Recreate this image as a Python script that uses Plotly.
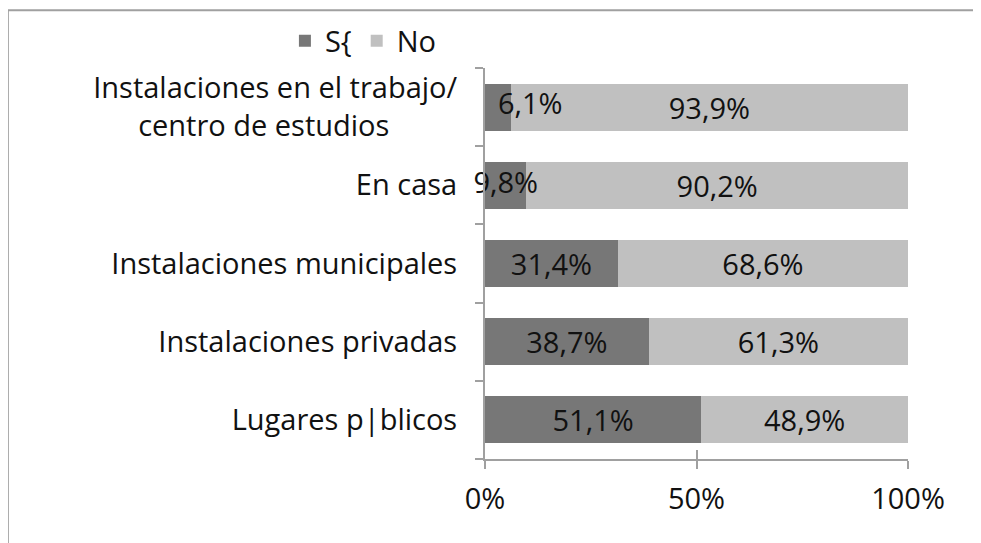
import plotly.graph_objects as go

categories = ["Lugares p|blicos", "Instalaciones privadas", "Instalaciones municipales",
              "En casa", "Instalaciones en el trabajo/<br>centro de estudios" + "\u00a0" * 9]
si_values = [51.1, 38.7, 31.4, 9.8, 6.1]
no_values = [48.9, 61.3, 68.6, 90.2, 93.9]
series_names = ["S{", "No"]
x_ticks = [0, 50, 100]
x_tick_labels = ["0%", "50%", "100%"]

FONT = "Open Sans"
FS = 29
SMALL = 15  # segments below this get their label drawn as overflow text

def lab(v):
    return f"{v:.1f}%".replace(".", ",")

fig = go.Figure()
fig.add_trace(go.Bar(y=categories, x=si_values, orientation="h", name=series_names[0],
                     marker=dict(color="#777777", line=dict(width=0)),
                     text=[lab(v) if v >= SMALL else "" for v in si_values],
                     textposition="inside", insidetextanchor="middle", textangle=0,
                     textfont=dict(family=FONT, size=FS, color="#111111")))
fig.add_trace(go.Bar(y=categories, x=no_values, orientation="h", name=series_names[1],
                     marker=dict(color="#c0c0c0", line=dict(width=0)),
                     text=[lab(v) for v in no_values],
                     textposition="inside", insidetextanchor="middle", textangle=0,
                     textfont=dict(family=FONT, size=FS, color="#111111")))

# labels of the thin "S{" segments, overflowing like in the original
small_idx = [i for i, v in enumerate(si_values) if v < SMALL]
fig.add_trace(go.Scatter(
    x=[si_values[i] / 2 for i in small_idx], y=[categories[i] for i in small_idx],
    mode="text", text=[lab(si_values[i]) for i in small_idx],
    textposition=["middle center" if si_values[i] > 8 else "middle right" for i in small_idx],
    textfont=dict(family=FONT, size=FS, color="#111111"),
    showlegend=False, hoverinfo="skip", cliponaxis=False))

fig.update_layout(
    barmode="stack", bargap=0.4,
    width=981, height=543,
    margin=dict(l=477, r=81, t=60, b=92, autoexpand=False),
    paper_bgcolor="white", plot_bgcolor="white",
    font=dict(family=FONT, size=FS, color="#111111"),
    uniformtext=dict(mode="show", minsize=FS),
    showlegend=True,
    legend=dict(orientation="h", x=-0.473, xanchor="left", y=1.069, yanchor="middle",
                font=dict(family=FONT, size=FS), itemwidth=30, tracegroupgap=0,
                bgcolor="rgba(0,0,0,0)", traceorder="normal"),
    xaxis=dict(range=[0, 100], tickvals=x_ticks, ticktext=x_tick_labels, showgrid=False,
               showline=True, linecolor="#a0a0a0", linewidth=2,
               ticks="outside", ticklen=8, tickcolor="#a0a0a0", tickwidth=2,
               ticklabelstandoff=5,
               zeroline=False, tickfont=dict(size=FS), automargin=False),
    xaxis2=dict(range=[0, 100], tickvals=x_ticks, overlaying="x", side="bottom",
                showticklabels=False, showgrid=False, showline=False,
                ticks="inside", ticklen=9, tickcolor="#a0a0a0", tickwidth=2,
                zeroline=False, anchor="y", automargin=False),
    yaxis=dict(showgrid=False, showline=True, linecolor="#a0a0a0", linewidth=2,
               ticks="outside", ticklen=8, tickcolor="#a0a0a0", tickwidth=2,
               tickson="boundaries", ticklabelstandoff=20, tickfont=dict(size=FS),
               automargin=False),
    shapes=[dict(type="rect", xref="paper", yref="paper",
                 x0=-1.128, x1=2.0, y0=-1.0, y1=1.148,
                 line=dict(color="#a0a0a0", width=2), fillcolor="rgba(0,0,0,0)",
                 layer="below")],
)
fig.add_trace(go.Scatter(x=[None], y=[None], xaxis="x2", showlegend=False, hoverinfo="skip"))

fig.write_html("out.html")
